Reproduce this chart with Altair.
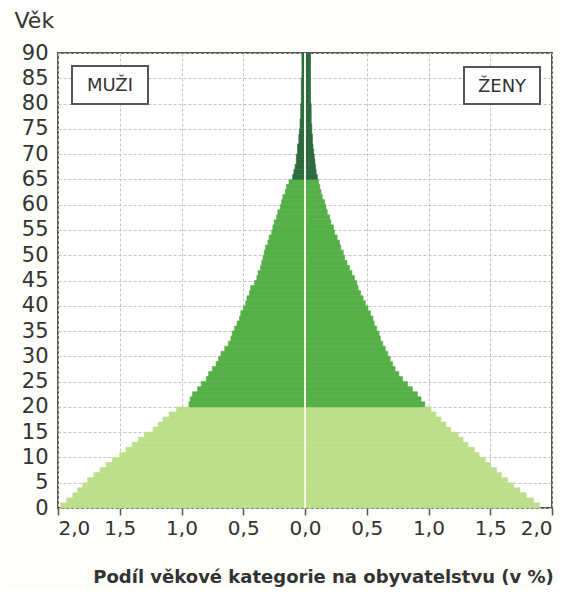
import altair as alt
import pandas as pd

# Ages 0..89 (single-year bars)
ages = list(range(90))

# Share of population (%) - men (left side)
men = [1.98, 1.93, 1.88, 1.84, 1.80, 1.76, 1.71, 1.66, 1.61, 1.56,
       1.50, 1.45, 1.40, 1.35, 1.30, 1.23, 1.19, 1.15, 1.10, 1.04,
       0.94, 0.93, 0.91, 0.87, 0.84, 0.80, 0.78, 0.75, 0.72, 0.70,
       0.68, 0.65, 0.62, 0.60, 0.59, 0.57, 0.55, 0.53, 0.52, 0.50,
       0.48, 0.47, 0.45, 0.44, 0.41, 0.39, 0.38, 0.36, 0.35, 0.34,
       0.33, 0.32, 0.30, 0.29, 0.27, 0.26, 0.25, 0.23, 0.22, 0.20,
       0.19, 0.18, 0.16, 0.15, 0.13, 0.10, 0.09, 0.08, 0.07, 0.07,
       0.06, 0.06, 0.05, 0.05, 0.045, 0.04, 0.04, 0.035, 0.035, 0.035,
       0.03, 0.03, 0.03, 0.03, 0.03, 0.025, 0.025, 0.025, 0.025, 0.025]

# Share of population (%) - women (right side)
women = [1.90, 1.85, 1.79, 1.74, 1.69, 1.64, 1.59, 1.55, 1.50, 1.46,
         1.41, 1.37, 1.32, 1.28, 1.24, 1.18, 1.14, 1.10, 1.06, 1.02,
         0.97, 0.94, 0.91, 0.87, 0.83, 0.79, 0.76, 0.73, 0.71, 0.69,
         0.67, 0.65, 0.63, 0.61, 0.60, 0.58, 0.56, 0.55, 0.53, 0.51,
         0.49, 0.47, 0.45, 0.43, 0.42, 0.40, 0.38, 0.36, 0.34, 0.32,
         0.31, 0.29, 0.28, 0.26, 0.24, 0.23, 0.21, 0.20, 0.18, 0.17,
         0.16, 0.14, 0.13, 0.12, 0.11, 0.10, 0.09, 0.085, 0.08, 0.075,
         0.07, 0.065, 0.06, 0.06, 0.055, 0.055, 0.05, 0.05, 0.05, 0.05,
         0.045, 0.045, 0.045, 0.045, 0.045, 0.045, 0.045, 0.045, 0.045, 0.045]

groups = ["0-19", "20-64", "65+"]
group_colors = ["#bcdf8a", "#55b047", "#2d6a3d"]
x_ticks = [-2.0, -1.5, -1.0, -0.5, 0.0, 0.5, 1.0, 1.5, 2.0]
y_ticks = list(range(0, 91, 5))


def group_of(a):
    if a < 20:
        return groups[0]
    if a < 65:
        return groups[1]
    return groups[2]


rows = []
for a, m, w in zip(ages, men, women):
    g = group_of(a)
    rows.append({"age": a, "age_end": a + 1, "val": -m, "base": 0.0, "grp": g, "sex": "MUŽI"})
    rows.append({"age": a, "age_end": a + 1, "val": w, "base": 0.0, "grp": g, "sex": "ŽENY"})
df = pd.DataFrame(rows)

FONT = "DejaVu Sans"
TXT = "#333333"

color_scale = alt.Scale(domain=groups, range=group_colors)

bars = alt.Chart(df).mark_bar(strokeWidth=0.6).encode(
    x=alt.X(
        "val:Q",
        scale=alt.Scale(domain=[-2, 2], nice=False, zero=False),
        axis=alt.Axis(
            values=x_ticks,
            labelExpr="replace(format(abs(datum.value), '.1f'), '.', ',')",
            title="Podíl věkové kategorie na obyvatelstvu (v %)",
            titleFont=FONT, titleFontSize=18, titleFontWeight="bold", titleColor=TXT,
            titlePadding=30, titleX=265,
            labelFont=FONT, labelFontSize=20, labelColor=TXT, labelPadding=3,
            tickSize=7, tickColor="#555555", tickWidth=1.5,
            domain=False,
            grid=True, gridColor="#c4c4c4", gridDash=[3, 2], gridWidth=1,
        ),
    ),
    x2="base:Q",
    y=alt.Y(
        "age:Q",
        scale=alt.Scale(domain=[0, 90], nice=False),
        axis=alt.Axis(
            values=y_ticks,
            title="Věk", titleAngle=0, titleAlign="left", titleBaseline="middle",
            titleX=-44, titleY=-33,
            titleFont=FONT, titleFontSize=22, titleFontWeight="normal", titleColor=TXT,
            labelFont=FONT, labelFontSize=21, labelColor=TXT, labelPadding=10,
            ticks=False, domain=False,
            grid=True, gridColor="#c4c4c4", gridDash=[3, 2], gridWidth=1,
        ),
    ),
    y2="age_end:Q",
    color=alt.Color("grp:N", scale=color_scale, legend=None),
    stroke=alt.Stroke("grp:N", scale=color_scale, legend=None),
)

center = alt.Chart(alt.Data(values=[{}])).mark_rule(color="#f3f6e6", strokeWidth=2).encode(
    x=alt.datum(0)
)

one = alt.Data(values=[{}])
box_m = alt.Chart(one).mark_rect(fill="white", stroke="#555555", strokeWidth=2).encode(
    x=alt.value(14), x2=alt.value(90), y=alt.value(13), y2=alt.value(51)
)
txt_m = alt.Chart(one).mark_text(font=FONT, fontSize=18, color=TXT, text="MUŽI").encode(
    x=alt.value(52), y=alt.value(33)
)
box_f = alt.Chart(one).mark_rect(fill="white", stroke="#555555", strokeWidth=2).encode(
    x=alt.value(406), x2=alt.value(482), y=alt.value(14), y2=alt.value(51)
)
txt_f = alt.Chart(one).mark_text(font=FONT, fontSize=18, color=TXT, text="ŽENY").encode(
    x=alt.value(444), y=alt.value(34)
)

chart = alt.layer(bars, center, box_m, txt_m, box_f, txt_f).properties(
    width=494,
    height=455,
    autosize=alt.AutoSizeParams(type="none"),
    padding={"left": 50, "top": 45, "right": 6, "bottom": 80},
    background="#fdfdf9",
).configure_view(
    fill="white", stroke="#555555", strokeWidth=2
)

chart.save("out.html", embed_options={"renderer": "svg", "actions": False})
